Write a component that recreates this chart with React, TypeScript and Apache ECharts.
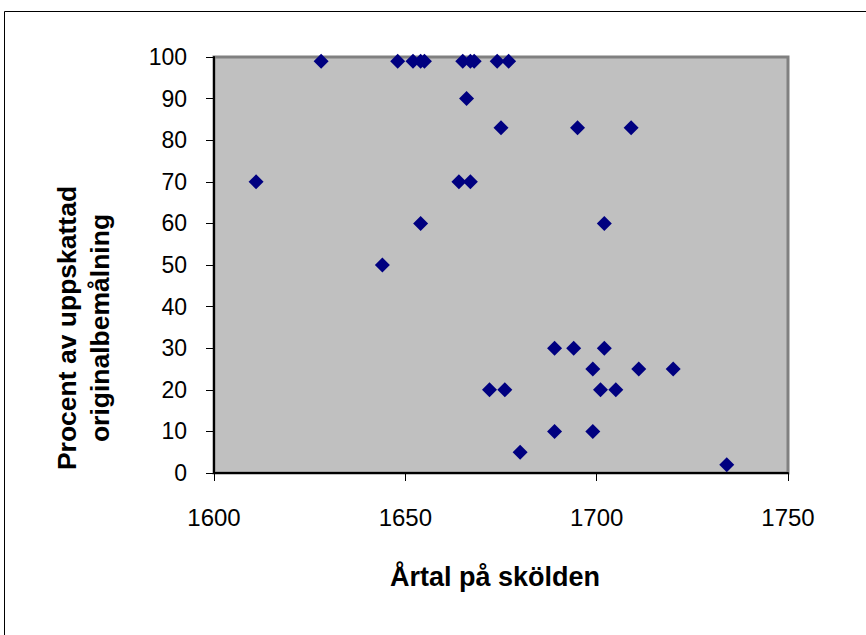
import React, { useEffect, useRef } from "react";
import * as echarts from "echarts";

const years = [
  1611, 1628, 1644, 1648, 1652, 1654, 1655, 1654, 1664, 1665, 1666, 1667,
  1668, 1667, 1672, 1674, 1675, 1676, 1677, 1680, 1689, 1689, 1694, 1695,
  1699, 1699, 1701, 1702, 1702, 1705, 1709, 1711, 1720, 1734,
];
const percents = [
  70, 99, 50, 99, 99, 99, 99, 60, 70, 99, 90, 99,
  99, 70, 20, 99, 83, 20, 99, 5, 30, 10, 30, 83,
  25, 10, 20, 30, 60, 20, 83, 25, 25, 2,
];
const xTitle = "Årtal på skölden";
const yTitle = "Procent av uppskattad\noriginalbemålning";

const FONT = "Liberation Sans";

export default function App() {
  const ref = useRef<HTMLDivElement>(null);
  useEffect(() => {
    if (!ref.current) return;
    const chart = echarts.init(ref.current, null, { renderer: "svg" });
    const data = years.map((y, i) => [y, percents[i]]);
    chart.setOption({
      animation: false,
      backgroundColor: "#ffffff",
      grid: {
        left: 214,
        top: 57,
        width: 574,
        height: 416,
        show: true,
        backgroundColor: "#c0c0c0",
        borderColor: "#808080",
        borderWidth: 3,
      },
      xAxis: {
        type: "value",
        min: 1600,
        max: 1750,
        interval: 50,
        splitLine: { show: false },
        axisLine: { show: true, onZero: false, lineStyle: { color: "#000", width: 2 } },
        axisTick: { show: true, length: 8, lineStyle: { color: "#000", width: 1 } },
        axisLabel: {
          color: "#000",
          fontFamily: FONT,
          fontSize: 24,
          margin: 32,
          formatter: (v: number) => String(v),
        },
      },
      yAxis: {
        type: "value",
        min: 0,
        max: 100,
        interval: 10,
        splitLine: { show: false },
        axisLine: { show: true, onZero: false, lineStyle: { color: "#000", width: 2 } },
        axisTick: { show: true, length: 8, lineStyle: { color: "#000", width: 1 } },
        axisLabel: {
          color: "#000",
          fontFamily: FONT,
          fontSize: 23,
          margin: 27,
          padding: [6, 0, 0, 0],
        },
      },
      series: [
        {
          type: "scatter",
          data,
          symbol: "diamond",
          symbolSize: 15,
          itemStyle: { color: "#000080", opacity: 1 },
        },
      ],
      graphic: [
        {
          type: "line",
          shape: { x1: 4.5, y1: 11.5, x2: 866, y2: 11.5 },
          style: { stroke: "#000", lineWidth: 1 },
        },
        {
          type: "line",
          shape: { x1: 4.5, y1: 11.5, x2: 4.5, y2: 635 },
          style: { stroke: "#000", lineWidth: 1 },
        },
        {
          type: "text",
          x: 495,
          y: 577,
          style: {
            text: xTitle,
            fill: "#000",
            font: `bold 27px "${FONT}"`,
            align: "center",
            verticalAlign: "middle",
          },
        },
        {
          type: "text",
          x: 83,
          y: 328,
          rotation: Math.PI / 2,
          style: {
            text: yTitle,
            fill: "#000",
            font: `bold 26.5px "${FONT}"`,
            lineHeight: 33,
            align: "center",
            verticalAlign: "middle",
          },
        },
      ],
    });
    return () => chart.dispose();
  }, []);
  return (
    <div
      ref={ref}
      style={{ position: "fixed", left: 0, top: 0, width: 866, height: 635 }}
    />
  );
}
